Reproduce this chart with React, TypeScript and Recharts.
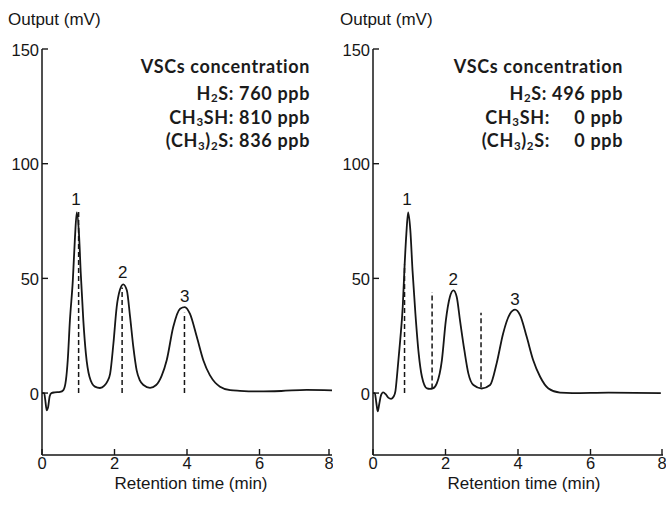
import { ComposedChart, Line, Scatter, XAxis, YAxis, ReferenceLine } from 'recharts';

// chromatogram traces, [time (min), output (mV)]
const leftTrace = [
  [0, 0], [0.06, 0], [0.09, -3], [0.13, -7.5], [0.17, -6], [0.21, -1.5], [0.26, 0], [0.35, 0.3],
  [0.5, 0.5], [0.59, 1.3], [0.66, 5.6], [0.71, 14.3], [0.77, 31.7], [0.85, 49], [0.91, 68],
  [0.96, 78.8], [1.02, 69.4], [1.07, 52], [1.14, 31.7], [1.21, 17.3], [1.31, 7.1], [1.46, 2.8],
  [1.6, 2.2], [1.72, 3.2], [1.8, 5], [1.88, 8.5], [1.97, 21.6], [2.06, 37.5], [2.15, 45],
  [2.24, 47.4], [2.34, 44.8], [2.43, 33.2], [2.52, 20], [2.61, 10], [2.7, 5.5], [2.8, 3.5],
  [2.98, 2.3], [3.15, 3.5], [3.3, 7.5], [3.44, 14.3], [3.62, 28.8], [3.81, 36.8], [3.94, 37.5],
  [4.08, 34.6], [4.27, 24.5], [4.45, 14.3], [4.63, 7.8], [4.78, 4.5], [4.91, 2.8], [5.19, 1.3],
  [5.46, 1], [6, 0.7], [6.6, 0.9], [7.3, 1.4], [8, 1.2],
];

const rightTrace = [
  [0, 0], [0.05, 0], [0.09, -4], [0.13, -8], [0.17, -5], [0.22, -1], [0.28, 0.3], [0.35, -0.5],
  [0.42, -2], [0.5, -2.5], [0.57, -1.5], [0.62, 1], [0.66, 7.1], [0.75, 23], [0.82, 37.5],
  [0.87, 55], [0.92, 69.4], [0.97, 78.8], [1.03, 71], [1.09, 53.5], [1.17, 34.6], [1.26, 17.3],
  [1.35, 7.1], [1.49, 2], [1.57, 1.8], [1.65, 2], [1.76, 4.2], [1.9, 14.3], [2.01, 31.7],
  [2.12, 41.9], [2.22, 44.8], [2.31, 41.9], [2.4, 31.7], [2.52, 18.7], [2.63, 8.6], [2.77, 3.5],
  [3, 2], [3.23, 3.5], [3.41, 12.9], [3.59, 26], [3.78, 34.6], [3.92, 36.4], [4.06, 33.9],
  [4.24, 24.5], [4.42, 14.3], [4.61, 7.1], [4.84, 2], [5.16, 0.2], [5.5, 0], [6.5, 0.2], [7.94, 0],
];

// dashed markers: [time, from mV, to mV]
const leftMarkers = [[1.01, 0, 79], [2.21, 0, 46], [3.93, 0, 35]];
const rightMarkers = [[0.87, 0, 56], [1.63, 2, 44], [2.98, 2.5, 35]];

// peak numbers: [time, mV, label]
const leftPeaks = [[0.94, 82, '1'], [2.23, 50, '2'], [3.94, 39.7, '3']];
const rightPeaks = [[0.94, 82, '1'], [2.21, 47, '2'], [3.92, 38.4, '3']];

const xTicks = [0, 2, 4, 6, 8];
const yTicks = [0, 50, 100, 150];

const compounds = [
  [['H'], ['2', 'sub'], ['S:']],
  [['CH'], ['3', 'sub'], ['SH:']],
  [['(CH'], ['3', 'sub'], [')'], ['2', 'sub'], ['S:']],
];
const leftConc = [760, 810, 836];
const rightConc = [496, 0, 0];

const ARIAL = '"Liberation Sans", Arial, sans-serif';
const INK = '#161616';

const XTick = (props: any) => {
  const { x, y, payload } = props;
  return (
    <g>
      <line x1={x} x2={x} y1={y} y2={y - 6} stroke={INK} strokeWidth={1.4} />
      <text x={x} y={y + 14} textAnchor="middle" fontFamily={ARIAL} fontSize={16.5} fill={INK}>
        {payload.value}
      </text>
    </g>
  );
};

const YTick = (props: any) => {
  const { x, y, payload } = props;
  return (
    <g>
      <line x1={x} x2={x + 6} y1={y} y2={y} stroke={INK} strokeWidth={1.4} />
      <text x={x - 3} y={y + 6.5} textAnchor="end" fontFamily={ARIAL} fontSize={16.5} fill={INK}>
        {payload.value}
      </text>
    </g>
  );
};

const PeakLabel = (props: any) => (
  <text x={props.cx} y={props.cy} textAnchor="middle" fontFamily={ARIAL} fontSize={17} fill={INK}>
    {props.payload.name}
  </text>
);

interface PanelProps {
  trace: number[][];
  markers: number[][];
  peaks: any[][];
  left: number;
  axisWidth: number;
  rightMargin: number;
}

const Panel = ({ trace, markers, peaks, left, axisWidth, rightMargin }: PanelProps) => {
  const data = trace.map(([t, v]) => ({ t, v }));
  const peakData = peaks.map(([t, v, name]) => ({ t, v, name }));
  return (
    <div style={{ position: 'absolute', left, top: 0 }}>
      <ComposedChart
        width={333}
        height={505}
        margin={{ top: 49, right: rightMargin, bottom: 20, left: 0 }}
      >
        <XAxis
          type="number"
          dataKey="t"
          domain={[0, 8]}
          ticks={xTicks}
          height={30}
          tickSize={0}
          tickMargin={0}
          tickLine={false}
          tick={<XTick />}
          axisLine={{ stroke: INK, strokeWidth: 1.5 }}
          allowDataOverflow
        />
        <YAxis
          type="number"
          domain={[-27, 150]}
          ticks={yTicks}
          width={axisWidth}
          tickSize={0}
          tickMargin={0}
          tickLine={false}
          tick={<YTick />}
          axisLine={{ stroke: INK, strokeWidth: 1.5 }}
          allowDataOverflow
        />
        {markers.map(([t, a, b], i) => (
          <ReferenceLine
            key={i}
            segment={[{ x: t, y: a }, { x: t, y: b }]}
            stroke={INK}
            strokeWidth={1.5}
            strokeDasharray="5 3"
          />
        ))}
        <Line
          data={data}
          dataKey="v"
          type="monotone"
          stroke={INK}
          strokeWidth={1.8}
          dot={false}
          isAnimationActive={false}
        />
        <Scatter data={peakData} dataKey="v" shape={<PeakLabel />} isAnimationActive={false} />
      </ComposedChart>
    </div>
  );
};

const formula = (parts: string[][]) =>
  parts.map(([s, kind], j) =>
    kind === 'sub' ? (
      <tspan key={j} fontSize={11.5} dy={2.7}>{s}</tspan>
    ) : (
      <tspan key={j} dy={j > 0 && parts[j - 1][1] === 'sub' ? -2.7 : 0}>{s}</tspan>
    )
  );

// rows listed in splitRows put the label and the value in two columns
const Legend = ({ conc, labelX, valueX, splitRows }: { conc: number[]; labelX: number; valueX: number; splitRows: number[] }) => {
  const baselines = [99.5, 123.5, 147];
  return (
    <g fontFamily="Lato, 'Noto Sans', sans-serif" fontWeight={700} fontSize={18} letterSpacing={0.65} fill="#1b1b1b">
      <text x={valueX} y={73} textAnchor="end">VSCs concentration</text>
      {compounds.map((parts, i) =>
        splitRows.includes(i) ? (
          <g key={i}>
            <text x={labelX} y={baselines[i]} textAnchor="end">{formula(parts)}</text>
            <text x={valueX} y={baselines[i]} textAnchor="end">{conc[i]} ppb</text>
          </g>
        ) : (
          <text key={i} x={valueX} y={baselines[i]} textAnchor="end">
            {formula(parts)}
            <tspan> {conc[i]} ppb</tspan>
          </text>
        )
      )}
    </g>
  );
};

export default function App() {
  return (
    <div style={{ position: 'absolute', left: 0, top: 0, width: 667, height: 505, background: '#fff' }}>
      <Panel trace={leftTrace} markers={leftMarkers} peaks={leftPeaks} left={0} axisWidth={42} rightMargin={1} />
      <Panel trace={rightTrace} markers={rightMarkers} peaks={rightPeaks} left={333} axisWidth={40} rightMargin={3} />
      <svg width={667} height={505} style={{ position: 'absolute', left: 0, top: 0, pointerEvents: 'none' }}>
        <g fontFamily={ARIAL} fontSize={17} fill={INK}>
          <text x={8} y={25}>Output (mV)</text>
          <text x={340} y={25}>Output (mV)</text>
          <text x={191} y={489} textAnchor="middle">Retention time (min)</text>
          <text x={524} y={489} textAnchor="middle">Retention time (min)</text>
        </g>
        <Legend conc={leftConc} labelX={248} valueX={310} splitRows={[]} />
        <Legend conc={rightConc} labelX={550} valueX={623} splitRows={[1, 2]} />
      </svg>
    </div>
  );
}
